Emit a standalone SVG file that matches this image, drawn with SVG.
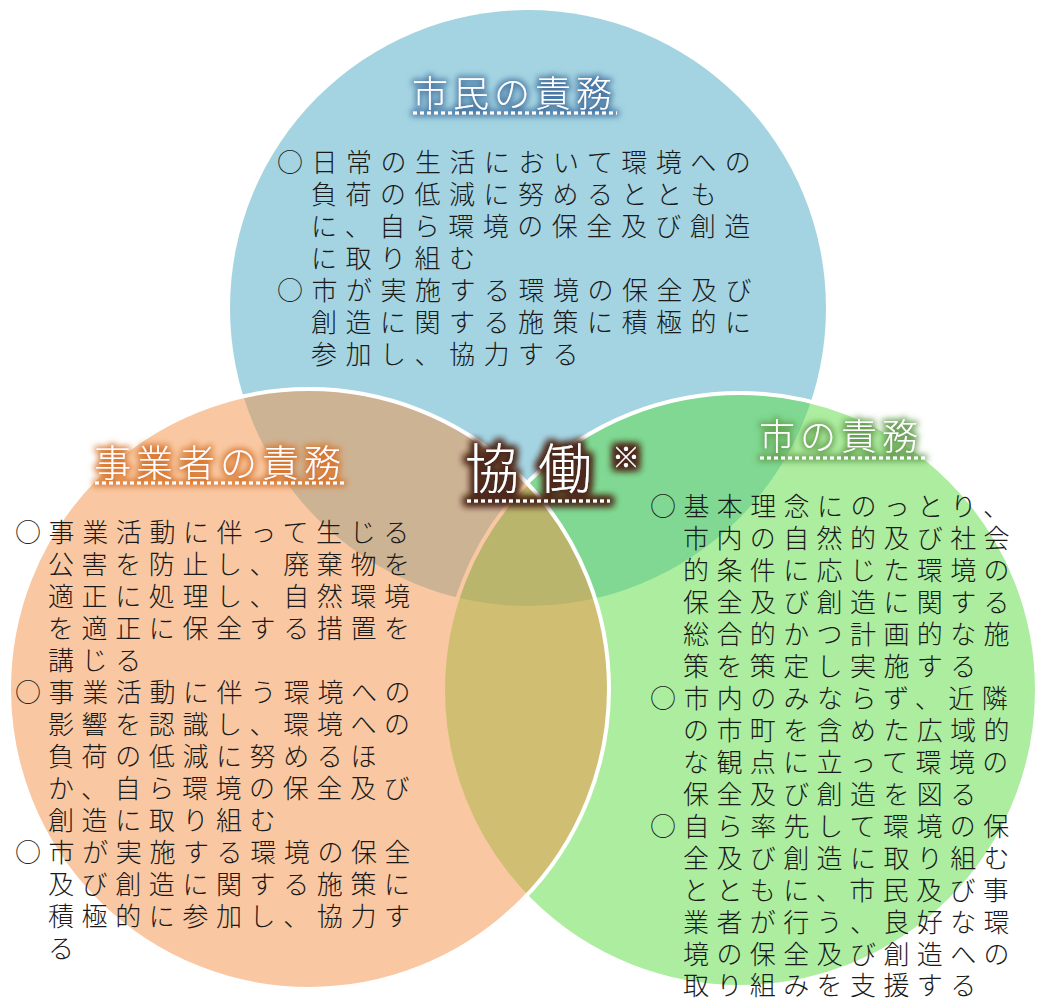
<svg xmlns="http://www.w3.org/2000/svg" width="1037" height="999" viewBox="0 0 1037 999">
<defs>
<style>
.body{font-family:"Noto Sans CJK JP","Noto Sans CJK SC",sans-serif;font-size:26px;font-weight:300;fill:#1a1a1a}
.title{font-family:"Noto Sans CJK JP","Noto Sans CJK SC",sans-serif;font-weight:300;fill:#ffffff}
.ul{stroke:#ffffff;stroke-width:3;stroke-dasharray:4 3;fill:none}
</style>
<filter id="glowBlue" x="-20%" y="-50%" width="140%" height="200%">
<feMorphology in="SourceAlpha" operator="dilate" radius="2" result="d"/>
<feGaussianBlur in="d" stdDeviation="3" result="b"/>
<feFlood flood-color="#3f6f9f" flood-opacity="0.9"/>
<feComposite in2="b" operator="in" result="g"/>
<feMerge><feMergeNode in="g"/><feMergeNode in="SourceGraphic"/></feMerge>
</filter>
<filter id="glowOrange" x="-20%" y="-50%" width="140%" height="200%">
<feMorphology in="SourceAlpha" operator="dilate" radius="2" result="d"/>
<feGaussianBlur in="d" stdDeviation="3" result="b"/>
<feFlood flood-color="#d8762c" flood-opacity="0.95"/>
<feComposite in2="b" operator="in" result="g"/>
<feMerge><feMergeNode in="g"/><feMergeNode in="SourceGraphic"/></feMerge>
</filter>
<filter id="glowGreen" x="-20%" y="-50%" width="140%" height="200%">
<feMorphology in="SourceAlpha" operator="dilate" radius="2" result="d"/>
<feGaussianBlur in="d" stdDeviation="3" result="b"/>
<feFlood flood-color="#5f9a48" flood-opacity="0.9"/>
<feComposite in2="b" operator="in" result="g"/>
<feMerge><feMergeNode in="g"/><feMergeNode in="SourceGraphic"/></feMerge>
</filter>
<filter id="glowBrown" x="-20%" y="-50%" width="140%" height="200%">
<feMorphology in="SourceAlpha" operator="dilate" radius="3" result="d"/>
<feGaussianBlur in="d" stdDeviation="3.5" result="b"/>
<feFlood flood-color="#4e2a1c" flood-opacity="0.95"/>
<feComposite in2="b" operator="in" result="g"/>
<feMerge><feMergeNode in="g"/><feMergeNode in="g"/><feMergeNode in="SourceGraphic"/></feMerge>
</filter>
</defs>
<rect width="1037" height="999" fill="#ffffff"/>

<g id="node-citizen">
<circle cx="528" cy="308" r="298" fill="#a4d4e2"/>
</g>
<g id="node-city">
<circle cx="740" cy="690" r="297" fill="#5cdb41" fill-opacity="0.5" stroke="#ffffff" stroke-width="4"/>
</g>
<g id="node-business">
<circle cx="309" cy="689" r="300" fill="#f39145" fill-opacity="0.5" stroke="#ffffff" stroke-width="4"/>
</g>

<g id="citizen-labels">
<g filter="url(#glowBlue)">
<text class="title" x="412" y="107" font-size="36" letter-spacing="5">市民の責務</text>
<line class="ul" x1="413" y1="113" x2="617" y2="113"/>
</g>
<g class="body" letter-spacing="8.5">
<text x="277" y="172">○日常の生活において環境への</text>
<text x="311" y="204">負荷の低減に努めるととも</text>
<text x="311" y="236">に、自ら環境の保全及び創造</text>
<text x="311" y="268">に取り組む</text>
<text x="277" y="300">○市が実施する環境の保全及び</text>
<text x="311" y="332">創造に関する施策に積極的に</text>
<text x="311" y="364">参加し、協力する</text>
</g>
</g>

<g id="business-labels">
<g filter="url(#glowOrange)">
<text class="title" x="94" y="477" font-size="37" letter-spacing="5">事業者の責務</text>
<line class="ul" x1="95" y1="483" x2="347" y2="483"/>
</g>
<g class="body" letter-spacing="7.6">
<text x="15" y="542">○事業活動に伴って生じる</text>
<text x="48" y="574">公害を防止し、廃棄物を</text>
<text x="48" y="606">適正に処理し、自然環境</text>
<text x="48" y="638">を適正に保全する措置を</text>
<text x="48" y="670">講じる</text>
<text x="15" y="702">○事業活動に伴う環境への</text>
<text x="48" y="734">影響を認識し、環境への</text>
<text x="48" y="766">負荷の低減に努めるほ</text>
<text x="48" y="798">か、自ら環境の保全及び</text>
<text x="48" y="830">創造に取り組む</text>
<text x="15" y="862">○市が実施する環境の保全</text>
<text x="48" y="894">及び創造に関する施策に</text>
<text x="48" y="926">積極的に参加し、協力す</text>
<text x="48" y="958">る</text>
</g>
</g>

<g id="city-labels">
<g filter="url(#glowGreen)">
<text class="title" x="759" y="450" font-size="36" letter-spacing="5">市の責務</text>
<line class="ul" x1="760" y1="458" x2="925" y2="458"/>
</g>
<g class="body" letter-spacing="7.4">
<text x="650" y="516">○基本理念にのっとり、</text>
<text x="683" y="548">市内の自然的及び社会</text>
<text x="683" y="580">的条件に応じた環境の</text>
<text x="683" y="612">保全及び創造に関する</text>
<text x="683" y="644">総合的かつ計画的な施</text>
<text x="683" y="676">策を策定し実施する</text>
<text x="650" y="708">○市内のみならず、近隣</text>
<text x="683" y="740">の市町を含めた広域的</text>
<text x="683" y="772">な観点に立って環境の</text>
<text x="683" y="804">保全及び創造を図る</text>
<text x="650" y="836">○自ら率先して環境の保</text>
<text x="683" y="868">全及び創造に取り組む</text>
<text x="683" y="900">とともに、市民及び事</text>
<text x="683" y="932">業者が行う、良好な環</text>
<text x="683" y="964">境の保全及び創造への</text>
<text x="683" y="995">取り組みを支援する</text>
</g>
</g>

<g id="node-cooperation">
<g filter="url(#glowBrown)">
<text class="title" x="465" y="489" font-size="54" letter-spacing="19">協働</text>
<line class="ul" x1="467" y1="501" x2="610" y2="501"/>
<text class="title" x="612" y="468" font-size="28">※</text>
</g>
</g>
</svg>
